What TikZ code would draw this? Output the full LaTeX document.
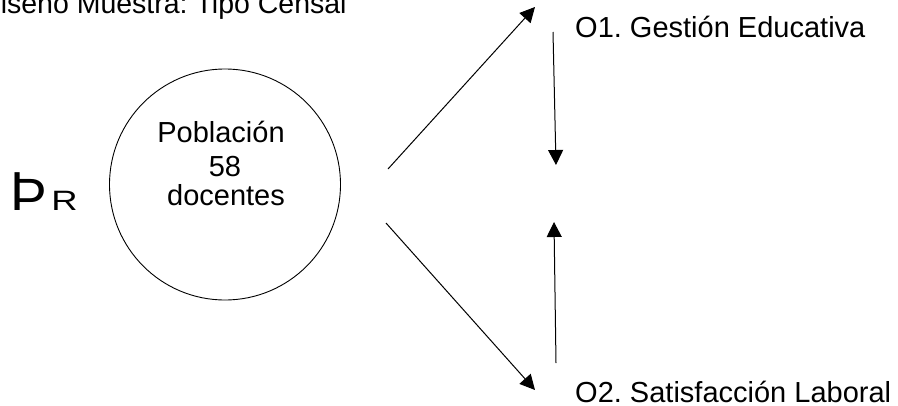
\documentclass[tikz,border=0pt]{standalone}
\usepackage{fontspec}
\setmainfont{Liberation Sans}
\usetikzlibrary{arrows.meta}
\begin{document}
\frenchspacing
\begin{tikzpicture}[x=1pt,y=-1pt,
  txt/.style={inner sep=0pt,font=\fontsize{29}{33}\selectfont},
  link/.style={line width=1pt,-{Triangle[length=15pt,width=15pt]}}]
\useasboundingbox (0,0) rectangle (898,405);
\clip (0,0) rectangle (898,405);

% title, partly cut by the frame
\node[txt,anchor=base west,font=\fontsize{28.5}{33}\selectfont] (title) at (-20,13) {Diseño Muestra: Tipo Censal};

% population circle
\node[draw,circle,line width=0.9pt,minimum size=231pt,inner sep=0pt] (pob) at (225,184.5) {};
\node[txt,anchor=base] (pobA) at (221,142) {Población};
\node[txt,anchor=base] (pobB) at (225,176) {58};
\node[txt,anchor=base] (pobC) at (226,205) {docentes};

% left symbol
\node[inner sep=0pt,anchor=base west,font=\fontsize{55}{60}\selectfont] (thorn) at (10,210) {Þ};
\node[inner sep=0pt,anchor=base west,xscale=1.3,font=\fontsize{28}{30}\selectfont] (rr) at (51,210) {R};

% observations
\node[txt,anchor=base west] (o1) at (575,37) {O1. Gestión Educativa};
\node[txt,anchor=base west] (o2) at (575,402) {O2. Satisfacción Laboral};

% arrow end points
\coordinate (a1s) at (388,169);
\coordinate (a1e) at (535,7);
\coordinate (a2s) at (553,32);
\coordinate (a2e) at (556,165);
\coordinate (a3s) at (386,223);
\coordinate (a3e) at (535,390);
\coordinate (a4s) at (556,363);
\coordinate (a4e) at (554,222);

\draw[link] (a1s) -- (a1e);
\draw[link] (a2s) -- (a2e);
\draw[link] (a3s) -- (a3e);
\draw[link] (a4s) -- (a4e);
\end{tikzpicture}
\end{document}
